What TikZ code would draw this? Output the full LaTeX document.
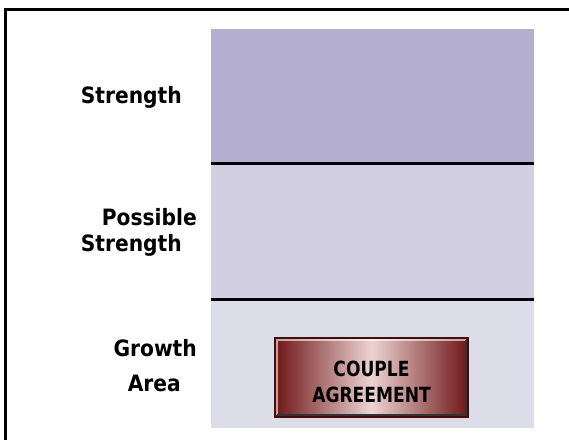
\documentclass[tikz,border=0pt]{standalone}
\usepackage{fontspec}
\setmainfont{DejaVu Sans Condensed}
\definecolor{bandA}{HTML}{B4AFCE}
\definecolor{bandB}{HTML}{D2CFE2}
\definecolor{bandC}{HTML}{DDDDEA}
\definecolor{wine}{HTML}{6E1616}
\definecolor{blush}{HTML}{EDD3D3}
\tikzset{
  rowlabel/.style={font=\fontsize{22.5}{26}\selectfont\bfseries, align=right, inner sep=0pt},
  button/.style={minimum width=193pt, minimum height=79pt, inner sep=0pt,
    left color=wine, right color=wine, middle color=blush, draw=wine!60!black, line width=1.5pt},
  buttontext/.style={font=\fontsize{19}{26}\selectfont\bfseries, align=center, inner sep=0pt},
}
\begin{document}
\begin{tikzpicture}[x=1pt, y=-1pt]
      \useasboundingbox (0,0) rectangle (569,440);
      \fill[bandA] (211,29) rectangle (534,163); % strength
      \fill[bandB] (211,163) rectangle (534,299); % possible strength
      \fill[bandC] (211,299) rectangle (534,428); % growth area
      \draw[line width=3pt] (211,163) -- (534,163);
      \draw[line width=3pt] (211,299) -- (534,299);
      \draw[line width=3pt] (5.5,440) -- (5.5,9) -- (569,9); % frame
      \node[rowlabel, anchor=east] (strength) at (182,97) {Strength};
      \node[rowlabel, anchor=east] (possible) at (197,217) {Possible};
      \node[rowlabel, anchor=east] (possible2) at (182,245) {Strength};
      \node[rowlabel, anchor=east] (growth) at (197,348) {Growth};
      \node[rowlabel, anchor=east] (area) at (181,383) {Area};
      \node[button] (couple) at (371.5,377.5) {};
      \draw[white, opacity=0.6, line width=1.5pt] ([shift={(2.5,-2.5)}]couple.south west) -- ([shift={(2.5,2.5)}]couple.north west) -- ([shift={(-2.5,2.5)}]couple.north east);
      \draw[black!80, line width=2pt] ([shift={(3,-3)}]couple.south west) -- ([shift={(-3,-3)}]couple.south east) -- ([shift={(-3,3)}]couple.north east);
      \node[buttontext] (coupletext) at ([yshift=-4pt]couple.center) {\scalebox{1}[1.1]{COUPLE}\\\scalebox{1}[1.1]{AGREEMENT}};
    \end{tikzpicture}
\end{document}
